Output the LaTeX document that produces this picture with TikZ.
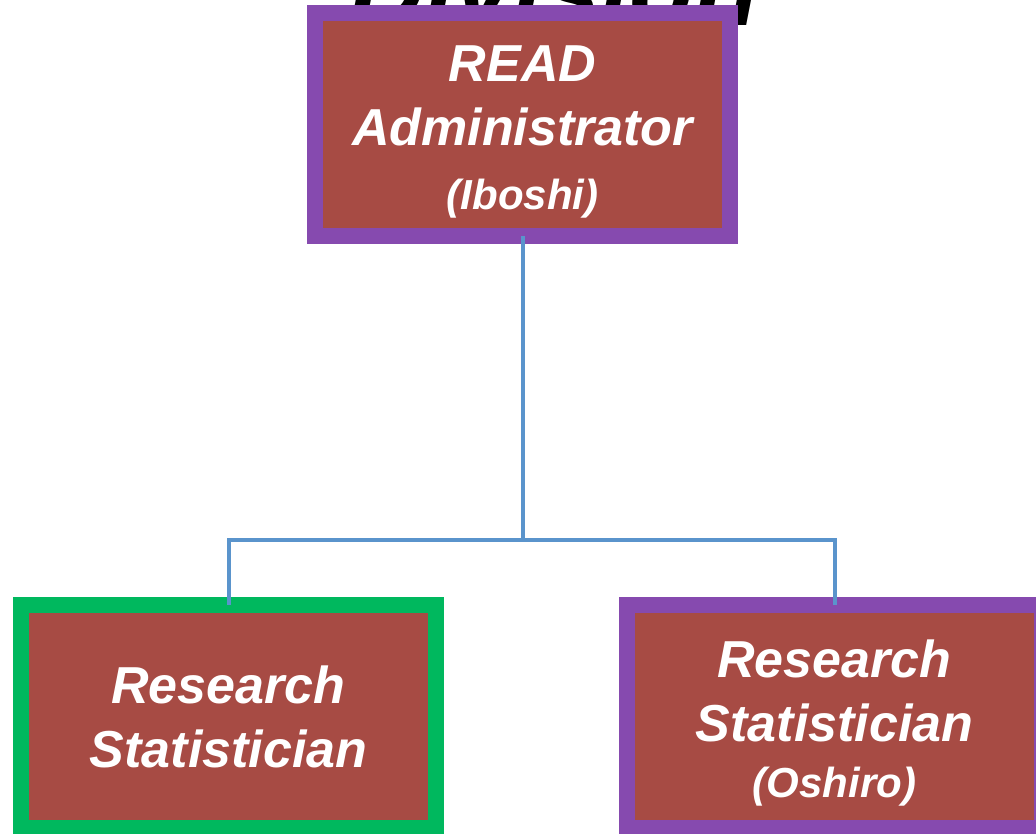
\documentclass[tikz,border=0pt]{standalone}
\usepackage{fontspec}
\setmainfont{Liberation Sans}
\usetikzlibrary{trees}
\definecolor{postred}{RGB}{167,75,68}
\definecolor{postpurple}{RGB}{134,74,175}
\definecolor{postgreen}{RGB}{0,184,94}
\definecolor{linkblue}{RGB}{90,148,204}
\begin{document}
\begin{tikzpicture}[x = 1pt, y = 1pt, every node/.style = {text = white, align = center, font = \bfseries\itshape\fontsize{52}{64}\selectfont}, post/.style = {draw, line width = 16pt, fill = postred, minimum width = 415pt, minimum height = 223pt, inner sep = 0pt, outer sep = 0pt}, level/.style = {sibling distance = 606pt, level distance = 592pt}, edge from parent/.style = {draw = linkblue, line width = 4pt}, edge from parent path = {(\tikzparentnode.south) -- ++(0,-303.5) -| (\tikzchildnode.north)}]
            \clip (0,0) rectangle (1036,-833);
            % title, cut off at the top
            \node[text = black, anchor = base, font = \bfseries\itshape\fontsize{105}{105}\selectfont] (division) at (554,-25) {Division};
            \node[post, draw = postpurple] (admin) at (522.5,-124.5) {\rule{0pt}{51pt}READ\\Administrator\\{\fontsize{42}{52}\selectfont (Iboshi)}}
            child[xshift = 9pt] {
                node[post, draw = postgreen] (stat1) {Research\\Statistician}
            }
            child[xshift = 9pt] {
                node[post, draw = postpurple] (stat2) {\rule{0pt}{51pt}Research\\Statistician\\[-8pt]{\fontsize{42}{52}\selectfont (Oshiro)}}
            };
\end{tikzpicture}
\end{document}
